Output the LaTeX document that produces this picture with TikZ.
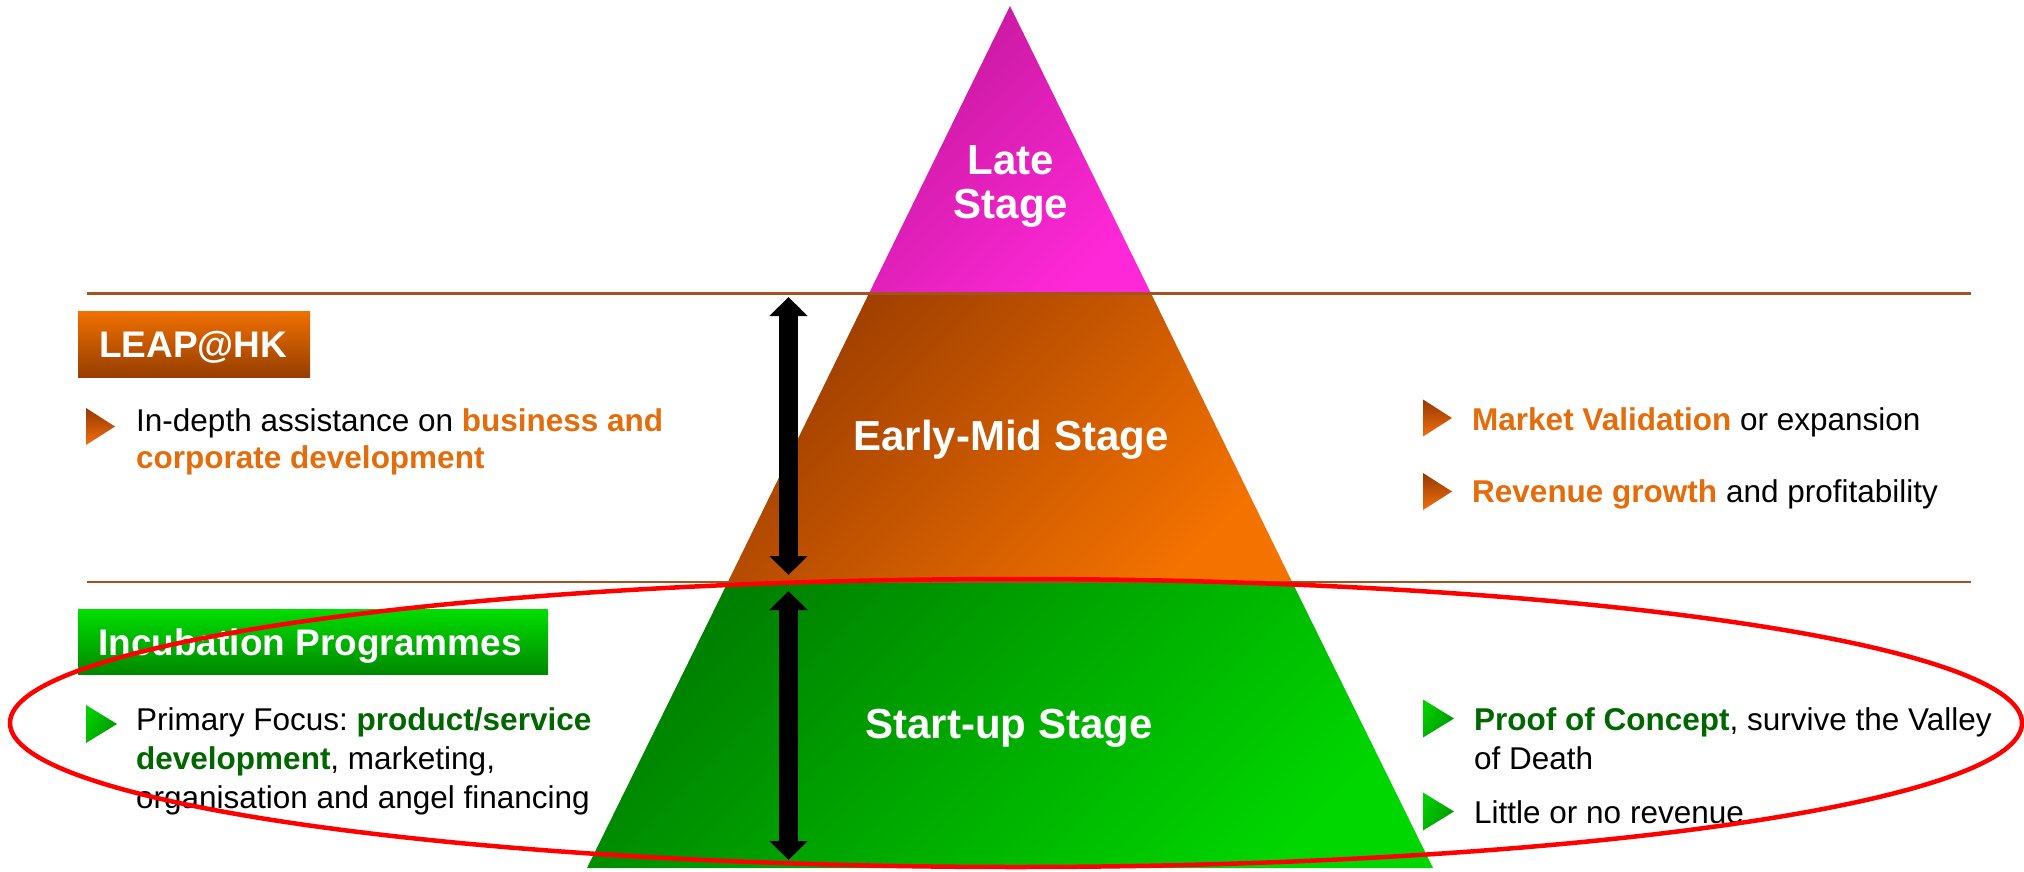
\documentclass[tikz,border=0pt]{standalone}
\usepackage{fontspec}
\setmainfont{Liberation Sans}
\usetikzlibrary{arrows.meta}
\frenchspacing
\definecolor{lateA}{RGB}{196,24,156}
\definecolor{lateB}{RGB}{255,40,216}
\definecolor{earlyA}{RGB}{158,62,0}
\definecolor{earlyB}{RGB}{244,114,0}
\definecolor{startA}{RGB}{0,128,0}
\definecolor{startB}{RGB}{0,214,0}
\definecolor{hline}{RGB}{166,82,30}
\definecolor{otxt}{RGB}{228,108,10}
\definecolor{gtxt}{RGB}{0,102,0}
\definecolor{boxOA}{RGB}{240,112,0}
\definecolor{boxOB}{RGB}{150,62,0}
\definecolor{boxGA}{RGB}{0,222,0}
\definecolor{boxGB}{RGB}{0,136,0}
\definecolor{bulOA}{RGB}{150,56,0}
\definecolor{bulOB}{RGB}{240,112,16}
\definecolor{bulGA}{RGB}{0,206,0}
\definecolor{bulGB}{RGB}{0,150,0}
\begin{document}
\begin{tikzpicture}[x=1pt,y=-1pt,
  body/.style={font=\fontsize{31.5}{38}\selectfont, inner sep=0pt, anchor=base west},
  stagelbl/.style={font=\fontsize{42}{44}\selectfont\bfseries, text=white, inner sep=0pt, anchor=base},
  hdr/.style={font=\fontsize{37}{40}\selectfont\bfseries, text=white, inner sep=0pt, anchor=base west},
  sepline/.style={draw=hline, line width=2.7pt},
  dblarrow/.style={line width=19pt, {Triangle[width=37pt,length=19pt]}-{Triangle[width=37pt,length=19pt]}},
  obullet/.pic={\shade[top color=bulOA, bottom color=bulOB] (0,-18.5) -- (29,0) -- (0,18.5) -- cycle;},
  gbullet/.pic={\shade[left color=bulGA, right color=bulGB, shading angle=60] (0,-19) -- (31,0) -- (0,19) -- cycle;}
]
\useasboundingbox (0,0) rectangle (2024,872);
\fill[white] (0,0) rectangle (2024,872);

% pyramid bands
\shade[top color=lateA, bottom color=lateB, shading angle=45]
  (1010,6) -- (1151.3,294) -- (868.7,294) -- cycle;
\shade[top color=earlyA, bottom color=earlyB, shading angle=45]
  (868.7,294) -- (1151.3,294) -- (1292.6,583) -- (727.4,583) -- cycle;
\shade[top color=startA, bottom color=startB, shading angle=45]
  (727.4,583) -- (1292.6,583) -- (1433,868) -- (587,868) -- cycle;

% separator lines
\coordinate (l1a) at (87,293.5);
\coordinate (l1b) at (1971,293.5);
\coordinate (l2a) at (87,582);
\coordinate (l2b) at (1971,582);
\draw[sepline] (l1a) -- (l1b);
\draw[sepline] (l2a) -- (l2b);

% stage labels
\node[stagelbl] (late1) at (1011,175) {Late};
\node[stagelbl] (late2) at (1011,218) {Stage};
\node[stagelbl] (early) at (1011,450) {Early-Mid Stage};
\node[stagelbl] (startup) at (1009,738) {Start-up Stage};

% double arrows
\coordinate (a1t) at (788.5,297);
\coordinate (a1b) at (788.5,575);
\coordinate (a2t) at (788.5,591);
\coordinate (a2b) at (788.5,860);
\draw[dblarrow] (a1t) -- (a1b);
\draw[dblarrow] (a2t) -- (a2b);

% header boxes
\shade[top color=boxOA, bottom color=boxOB] (78,311) rectangle (310,377);
\node[hdr] (leap) at (99,357) {LEAP@HK};
\shade[top color=boxGA, bottom color=boxGB] (78,609) rectangle (548,674);
\node[hdr] (incub) at (98,655) {Incubation Programmes};

% left bullets
\pic at (86,426.5) {obullet};
\node[body] (lb1a) at (136,431) {In-depth assistance on \textcolor{otxt}{\textbf{business and}}};
\node[body] (lb1b) at (136,468) {\textcolor{otxt}{\textbf{corporate development}}};

\pic at (86,724) {gbullet};
\node[body] (lb2a) at (136,730) {Primary Focus: \textcolor{gtxt}{\textbf{product/service}}};
\node[body] (lb2b) at (136,769) {\textcolor{gtxt}{\textbf{development}}, marketing,};
\node[body] (lb2c) at (136,808) {organisation and angel financing};

% right bullets
\pic at (1423,418) {obullet};
\node[body] (rb1) at (1472,430) {\textcolor{otxt}{\textbf{Market Validation}} or expansion};
\pic at (1423,491.5) {obullet};
\node[body] (rb2) at (1472,502) {\textcolor{otxt}{\textbf{Revenue growth}} and profitability};

\pic at (1423,718.5) {gbullet};
\node[body] (rb3a) at (1474,730) {\textcolor{gtxt}{\textbf{Proof of Concept}}, survive the Valley};
\node[body] (rb3b) at (1474,769) {of Death};
\pic at (1423,811.5) {gbullet};
\node[body] (rb4) at (1474,823) {Little or no revenue};

% red ellipse
\draw[red, line width=4.5pt] (1016,723) ellipse [x radius=1006, y radius=144];
\end{tikzpicture}
\end{document}
